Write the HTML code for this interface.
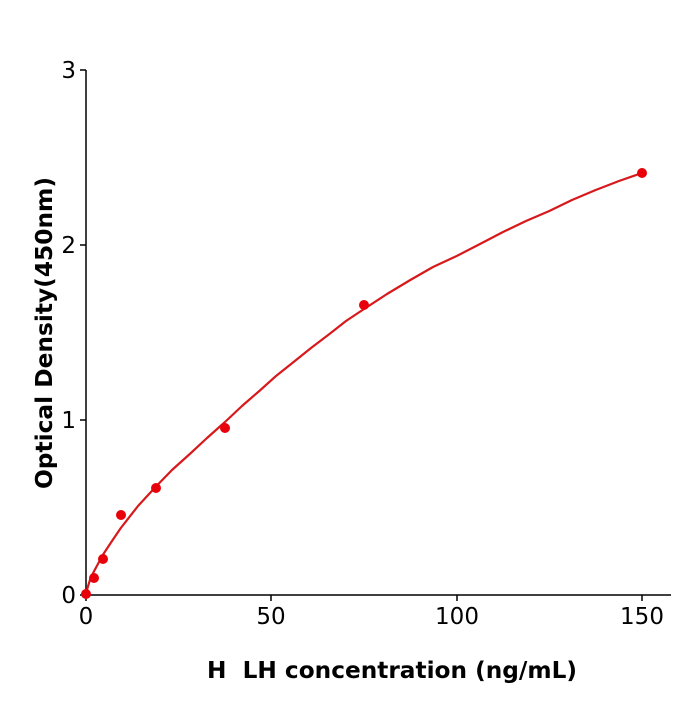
<!DOCTYPE html>
<html><head><style>body{margin:0;background:#fff}</style></head><body>
<svg width="700" height="700" xmlns="http://www.w3.org/2000/svg" font-family="DejaVu Sans, Liberation Sans, sans-serif">
<rect width="700" height="700" fill="#fff"/>
<g stroke="#000" stroke-width="1.5">
<line x1="86" y1="70" x2="86" y2="595"/>
<line x1="86" y1="595" x2="671" y2="595"/>
<line x1="80" y1="70" x2="86" y2="70"/>
<line x1="80" y1="245" x2="86" y2="245"/>
<line x1="80" y1="420" x2="86" y2="420"/>
<line x1="80" y1="595" x2="86" y2="595"/>
<line x1="86" y1="595" x2="86" y2="601"/>
<line x1="271" y1="595" x2="271" y2="601"/>
<line x1="457" y1="595" x2="457" y2="601"/>
<line x1="642" y1="595" x2="642" y2="601"/>
</g>
<g font-size="23" text-anchor="end">
<text x="76" y="78">3</text>
<text x="76" y="253">2</text>
<text x="76" y="428">1</text>
<text x="76" y="603">0</text>
</g>
<g font-size="23" text-anchor="middle">
<text x="86" y="624">0</text>
<text x="271" y="624">50</text>
<text x="457" y="624">100</text>
<text x="642" y="624">150</text>
</g>
<text x="392" y="678" font-size="23" font-weight="bold" text-anchor="middle" textLength="370" lengthAdjust="spacingAndGlyphs">H&#160; LH concentration (ng/mL)</text>
<text transform="translate(52,333) rotate(-90)" font-size="23" font-weight="bold" text-anchor="middle" textLength="312" lengthAdjust="spacingAndGlyphs">Optical Density(450nm)</text>
<polyline points="86,595 87.5,588 89,583 91,577 94.7,570 99,562 103.4,554 112,541 120.8,528 138,506 155.5,487 172,470 189.8,454 207,438 225,422 242,406 259.3,391 276,376 293.6,362 311,348 328.8,334.5 346,321 364,309 387,294 410.3,280 433,267 456.7,256 480,244 503,232 526,221 549.3,211 572,200 595.7,190 619,181 642,173" fill="none" stroke="#d7191c" stroke-width="2.2" stroke-linejoin="round"/>
<g fill="#e8000b">
<circle cx="86" cy="594" r="5"/>
<circle cx="94" cy="578" r="5"/>
<circle cx="103" cy="559" r="5"/>
<circle cx="121" cy="515" r="5"/>
<circle cx="156" cy="488" r="5"/>
<circle cx="225" cy="428" r="5"/>
<circle cx="364" cy="305" r="5"/>
<circle cx="642" cy="173" r="5"/>
</g>
</svg>
</body></html>
